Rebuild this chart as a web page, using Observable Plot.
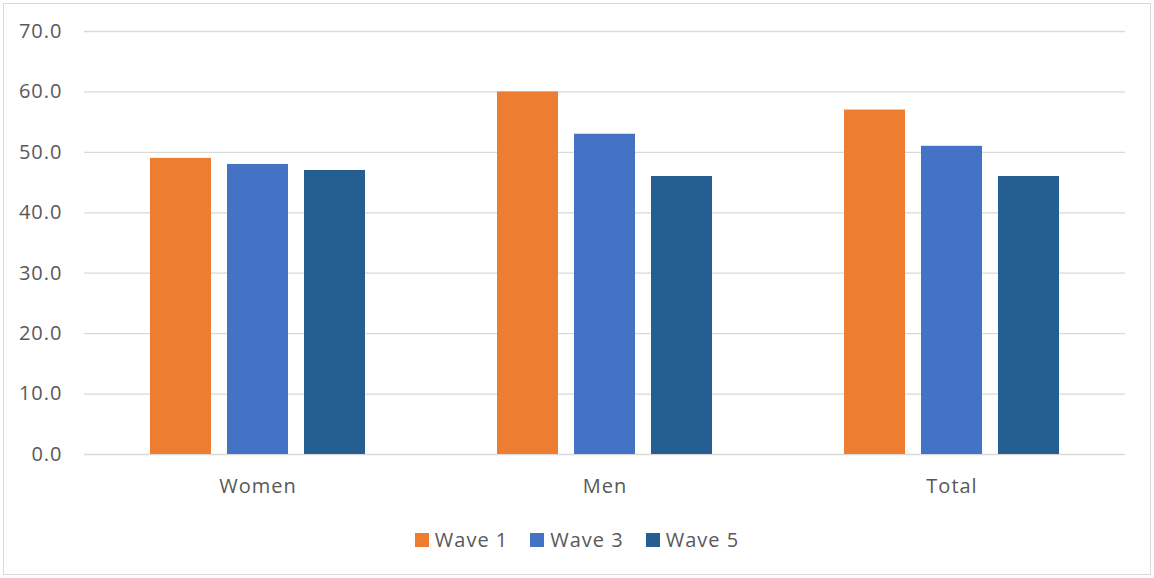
<!DOCTYPE html>
<html>
<head>
<meta charset="utf-8">
<script src="https://cdn.jsdelivr.net/npm/d3@7"></script>
<script src="https://cdn.jsdelivr.net/npm/@observablehq/plot@0.6"></script>
<style>
  html, body { margin: 0; padding: 0; background: #fff; }
  #frame {
    position: absolute; left: 3px; top: 3px;
    width: 1146px; height: 570px;
    border: 1px solid #d9d9d9;
    font-family: "Open Sans", sans-serif;
    color: #595959;
  }
  #legend {
    position: absolute; top: 525px; left: 0; width: 100%;
    display: flex; justify-content: center; gap: 22px;
    font-size: 20px; line-height: 22px; letter-spacing: 1px;
  }
  .item { display: flex; align-items: center; gap: 6px; }
  .sw { width: 14px; height: 14px; display: inline-block; }
  svg text { letter-spacing: 1px; }
</style>
</head>
<body>
<div id="frame">
  <div id="chart"></div>
  <div id="legend"></div>
</div>
<script>
const categories = ["Women", "Men", "Total"];
const waves = ["Wave 1", "Wave 3", "Wave 5"];
const wave1 = [49, 60, 57];
const wave3 = [48, 53, 51];
const wave5 = [47, 46, 46];
const colors = ["#ED7D31", "#4472C4", "#255E91"];
const yTicks = [0, 10, 20, 30, 40, 50, 60, 70];

const series = [wave1, wave3, wave5];
const data = categories.flatMap((c, i) =>
  waves.map((w, j) => ({ category: c, wave: w, value: series[j][i] }))
);

const chart = Plot.plot({
  width: 1146,
  height: 500,
  marginLeft: 80,
  marginRight: 25,
  marginTop: 27,
  marginBottom: 50,
  style: { fontFamily: "Open Sans, sans-serif", fontSize: "20px", color: "#595959", background: "transparent" },
  fx: { domain: categories, padding: 0, label: null },
  x: { domain: waves, paddingInner: 0.208, paddingOuter: 0.857, axis: null },
  y: { domain: [0, 70], label: null },
  color: { domain: waves, range: colors },
  marks: [
    Plot.ruleY(yTicks, { stroke: "#d9d9d9", strokeWidth: 1.3 }),
    Plot.barY(data, { fx: "category", x: "wave", y: "value", fill: "wave" }),
    Plot.axisY(yTicks, { tickSize: 0, tickPadding: 22, fontSize: 20, tickFormat: d3.format(".1f"), label: null, fill: "#595959" }),
    Plot.axisFx({ anchor: "bottom", tickSize: 0, tickPadding: 24, fontSize: 20, label: null, fill: "#595959" })
  ]
});
document.getElementById("chart").appendChild(chart);

const legend = document.getElementById("legend");
waves.forEach((w, i) => {
  const item = document.createElement("div");
  item.className = "item";
  const sw = document.createElement("span");
  sw.className = "sw";
  sw.style.background = colors[i];
  const t = document.createElement("span");
  t.textContent = w;
  item.appendChild(sw);
  item.appendChild(t);
  legend.appendChild(item);
});
</script>
</body>
</html>
